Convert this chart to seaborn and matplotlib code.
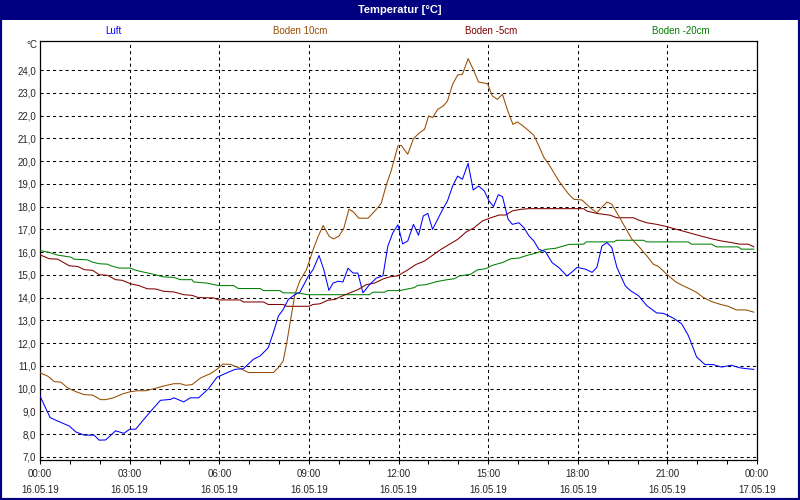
import numpy as np
import pandas as pd
import matplotlib
matplotlib.use('Agg')
import matplotlib.pyplot as plt
import matplotlib.ticker as mticker
from matplotlib.patches import Rectangle
import seaborn as sns

# -----------------------
# readings (hours since 16.05.19 00:00, degC)

luft_h = [0, 0.34, 0.59, 0.98, 1.2, 1.48, 1.81, 1.98, 2.2, 2.53,
	2.81, 3.0, 3.2, 3.48, 3.76, 4.03, 4.37, 4.48, 4.81, 5.03,
	5.31, 5.64, 5.92, 6.26, 6.53, 6.81, 7.14, 7.37, 7.64, 7.81,
	7.98, 8.14, 8.31, 8.53, 8.7, 8.98, 9.14, 9.34, 9.5, 9.67,
	9.81, 9.98, 10.14, 10.31, 10.48, 10.64, 10.81, 11.03, 11.26, 11.48,
	11.64, 11.81, 11.98, 12.14, 12.31, 12.5, 12.67, 12.83, 12.98, 13.14,
	13.31, 13.48, 13.64, 13.81, 13.98, 14.14, 14.33, 14.5, 14.68, 14.87,
	15.03, 15.18, 15.34, 15.48, 15.67, 15.81, 16.03, 16.2, 16.37, 16.53,
	16.7, 16.92, 17.14, 17.37, 17.64, 17.81, 17.98, 18.26, 18.48, 18.64,
	18.81, 18.98, 19.14, 19.31, 19.59, 19.76, 20.03, 20.31, 20.64, 20.87,
	21.2, 21.48, 21.7, 21.98, 22.26, 22.53, 22.81, 23.14, 23.42, 23.64,
	23.9]
luft_t = [9.68, 8.73, 8.58, 8.36, 8.1, 7.96, 7.96, 7.74, 7.75, 8.15,
	8.04, 8.22, 8.22, 8.66, 9.09, 9.49, 9.53, 9.6, 9.42, 9.6,
	9.6, 10.0, 10.5, 10.7, 10.85, 10.88, 11.29, 11.44, 11.8, 12.46,
	13.19, 13.48, 13.92, 14.13, 14.24, 14.94, 15.23, 15.85, 15.23, 14.32,
	14.64, 14.72, 14.69, 15.29, 15.08, 15.08, 14.21, 14.57, 14.86, 14.96,
	16.25, 16.85, 17.2, 16.36, 16.49, 17.22, 16.74, 17.59, 17.7, 17.0,
	17.44, 17.88, 18.25, 18.9, 19.34, 19.2, 19.9, 18.73, 18.9, 18.69,
	18.25, 18.0, 18.52, 18.44, 17.44, 17.22, 17.29, 17.07, 16.71, 16.49,
	16.12, 16.02, 15.54, 15.32, 14.95, 15.13, 15.33, 15.25, 15.11, 15.33,
	16.27, 16.42, 16.2, 15.33, 14.52, 14.31, 14.09, 13.65, 13.33, 13.31,
	13.1, 12.85, 12.34, 11.39, 11.06, 11.06, 10.95, 11.03, 10.92, 10.88,
	10.85]

b10_h = [0, 0.26, 0.48, 0.7, 0.92, 1.2, 1.48, 1.76, 2.03, 2.2,
	2.48, 2.76, 3.03, 3.26, 3.53, 3.81, 4.14, 4.48, 4.7, 4.87,
	5.09, 5.37, 5.7, 5.92, 6.12, 6.37, 6.64, 6.98, 7.81, 7.98,
	8.14, 8.26, 8.39, 8.53, 8.7, 8.92, 9.14, 9.31, 9.48, 9.68,
	9.83, 10.01, 10.17, 10.34, 10.48, 10.67, 10.98, 11.26, 11.42, 11.59,
	11.76, 11.98, 12.09, 12.31, 12.5, 12.68, 12.87, 13.01, 13.14, 13.31,
	13.5, 13.64, 13.81, 13.98, 14.14, 14.33, 14.5, 14.68, 14.98, 15.14,
	15.31, 15.48, 15.64, 15.83, 15.98, 16.14, 16.37, 16.53, 16.7, 16.87,
	17.03, 17.2, 17.37, 17.53, 17.7, 17.87, 18.14, 18.42, 18.64, 18.81,
	18.98, 19.14, 19.37, 19.59, 19.81, 20.03, 20.31, 20.53, 20.7, 20.98,
	21.26, 21.48, 21.76, 21.98, 22.2, 22.48, 22.76, 23.03, 23.31, 23.64,
	23.9]
b10_t = [10.7, 10.55, 10.31, 10.29, 10.04, 9.87, 9.74, 9.72, 9.52, 9.52,
	9.61, 9.77, 9.87, 9.91, 9.91, 10.0, 10.12, 10.22, 10.22, 10.15,
	10.18, 10.47, 10.66, 10.85, 11.08, 11.07, 10.93, 10.71, 10.71, 10.93,
	11.22, 12.02, 13.04, 14.13, 14.75, 15.23, 16.1, 16.69, 17.17, 16.69,
	16.58, 16.71, 17.05, 17.88, 17.78, 17.49, 17.49, 17.88, 18.14, 18.94,
	19.6, 20.66, 20.69, 20.3, 20.98, 21.22, 21.39, 21.98, 21.91, 22.27,
	22.42, 22.64, 23.37, 23.78, 23.81, 24.5, 24.03, 23.47, 23.4, 22.86,
	22.71, 22.93, 22.27, 21.61, 21.72, 21.57, 21.32, 21.13, 20.66, 20.15,
	19.86, 19.49, 19.12, 18.83, 18.54, 18.32, 18.29, 17.95, 17.73, 17.98,
	18.2, 18.1, 17.59, 17.08, 16.57, 16.27, 15.84, 15.47, 15.37, 15.03,
	14.71, 14.55, 14.38, 14.23, 14.01, 13.83, 13.71, 13.62, 13.46, 13.46,
	13.36]

b5_h = [0, 0.31, 0.59, 0.98, 1.26, 1.48, 1.76, 1.98, 2.26, 2.53,
	2.76, 3.03, 3.31, 3.59, 3.87, 4.14, 4.48, 4.81, 5.09, 5.31,
	5.81, 5.98, 6.7, 6.81, 7.48, 7.64, 8.14, 8.26, 9.0, 9.14,
	9.37, 9.64, 9.87, 10.09, 10.37, 10.64, 10.92, 11.2, 11.48, 11.7,
	11.98, 12.31, 12.59, 12.87, 13.14, 13.42, 13.7, 13.98, 14.26, 14.53,
	14.81, 15.09, 15.37, 15.59, 15.81, 16.09, 16.37, 18.2, 18.31, 18.64,
	19.09, 19.31, 19.87, 20.03, 20.31, 20.64, 20.98, 21.31, 21.59, 21.92,
	22.2, 22.53, 22.81, 23.14, 23.42, 23.7, 23.9]
b5_t = [15.88, 15.71, 15.69, 15.4, 15.37, 15.23, 15.2, 15.01, 14.98, 14.79,
	14.76, 14.61, 14.53, 14.39, 14.38, 14.28, 14.25, 14.13, 14.1, 14.0,
	13.99, 13.9, 13.9, 13.81, 13.81, 13.7, 13.7, 13.62, 13.62, 13.7,
	13.73, 13.89, 13.92, 14.06, 14.21, 14.35, 14.57, 14.64, 14.82, 14.91,
	14.96, 15.22, 15.46, 15.61, 15.86, 16.12, 16.34, 16.56, 16.88, 17.07,
	17.37, 17.51, 17.63, 17.63, 17.81, 17.88, 17.91, 17.91, 17.8, 17.7,
	17.62, 17.51, 17.51, 17.41, 17.29, 17.22, 17.12, 17.0, 16.9, 16.78,
	16.68, 16.57, 16.49, 16.42, 16.35, 16.35, 16.23]

b20_h = [0, 0.31, 0.59, 1.03, 1.14, 1.59, 1.76, 1.98, 2.26, 2.37,
	2.64, 3.03, 3.14, 3.37, 3.76, 4.14, 4.48, 4.7, 5.09, 5.14,
	5.59, 5.98, 6.48, 6.64, 7.37, 7.48, 8.03, 8.14, 8.59, 8.98,
	11.03, 11.14, 11.53, 11.64, 12.03, 12.53, 12.64, 12.92, 13.26, 13.59,
	13.87, 14.03, 14.42, 14.64, 14.92, 15.14, 15.48, 15.76, 16.03, 16.31,
	16.59, 16.92, 17.26, 17.53, 17.7, 18.2, 18.29, 19.2, 19.31, 20.2,
	20.31, 21.7, 21.81, 22.48, 22.64, 23.37, 23.48, 23.9]
b20_t = [16.07, 15.99, 15.87, 15.78, 15.69, 15.66, 15.56, 15.49, 15.47, 15.4,
	15.3, 15.3, 15.23, 15.15, 15.04, 14.91, 14.89, 14.79, 14.79, 14.69,
	14.64, 14.53, 14.53, 14.4, 14.4, 14.31, 14.31, 14.21, 14.21, 14.13,
	14.13, 14.24, 14.24, 14.31, 14.31, 14.44, 14.54, 14.57, 14.7, 14.78,
	14.83, 14.95, 15.03, 15.22, 15.27, 15.42, 15.54, 15.71, 15.74, 15.86,
	15.95, 16.12, 16.17, 16.27, 16.34, 16.35, 16.45, 16.45, 16.52, 16.52,
	16.45, 16.45, 16.35, 16.35, 16.23, 16.23, 16.13, 16.13]

series = ['Luft', 'Boden 10cm', 'Boden -5cm', 'Boden -20cm']
colors = ['#0000FF', '#964B00', '#800000', '#008000']

tick_hours = [0, 3, 6, 9, 12, 15, 18, 21, 24]
tick_times = ['00:00', '03:00', '06:00', '09:00', '12:00', '15:00', '18:00', '21:00', '00:00']
tick_dates = ['16.05.19'] * 8 + ['17.05.19']

# -----------------------

sns.set_style('white')
plt.rcParams['font.family'] = ['Liberation Sans', 'DejaVu Sans']

W, H = 800, 500
fig = plt.figure(figsize=(W / 100, H / 100), dpi=100, facecolor='white')

def fx(px): return px / W
def fy(py): return 1 - py / H

ax = fig.add_axes([fx(40), fy(460), fx(757) - fx(40), fy(41) - fy(460)])

df = pd.concat([
	pd.DataFrame({'hour': h, 'temp': t, 'series': s})
	for s, h, t in zip(series, [luft_h, b10_h, b5_h, b20_h], [luft_t, b10_t, b5_t, b20_t])
])

# draw back to front like the original (green first, blue on top)
sns.lineplot(data=df, x='hour', y='temp', hue='series', hue_order=series[::-1],
	palette=dict(zip(series, colors)), estimator=None, sort=False,
	lw=0.75, legend=False, ax=ax, zorder=3)

ax.set_xlim(0, 24)
ax.set_ylim(7 - 3 / 22.76, 24 + 29 / 22.76)
ax.set(xlabel='', ylabel='')

ax.set_xticks(tick_hours)
ax.set_xticklabels([t + '\n' + d for t, d in zip(tick_times, tick_dates)], linespacing=1.75)
ax.xaxis.set_minor_locator(mticker.MultipleLocator(1))
ax.set_yticks(np.arange(7, 25))
ax.yaxis.set_major_formatter(mticker.FuncFormatter(lambda v, p: ('%.1f' % v).replace('.', ',')))

ax.tick_params(axis='x', which='both', bottom=True, direction='out', length=3, width=0.75,
	color='black', labelsize=7, pad=3.5)
ax.tick_params(axis='y', left=False, length=0, labelsize=7, pad=3)

for sp in ax.spines.values():
	sp.set_color('black')
	sp.set_linewidth(0.9)

ax.grid(True, which='major', axis='both', color='black', lw=0.75, ls=(0, (3, 3)))
ax.set_axisbelow(True)

# header, legend row, unit label
fig.patches.append(Rectangle((0, fy(20)), 1, fy(0) - fy(20), transform=fig.transFigure,
	facecolor='#000080', edgecolor='none', zorder=0))
fig.patches.append(Rectangle((0, 0), 1, 1, transform=fig.transFigure, fill=False,
	edgecolor='#000080', lw=3, zorder=5))
fig.text(0.5, fy(10), 'Temperatur [°C]', color='white', fontsize=8, fontweight='bold',
	ha='center', va='center')

for s, c, px in zip(series, colors, [113, 300, 491, 681]):
	fig.text(fx(px), fy(30.5), s, color=c, fontsize=7, ha='center', va='center')

fig.text(fx(37), fy(44.5), '°C', fontsize=7, ha='right', va='center')

fig.savefig('out.png', dpi=100)
